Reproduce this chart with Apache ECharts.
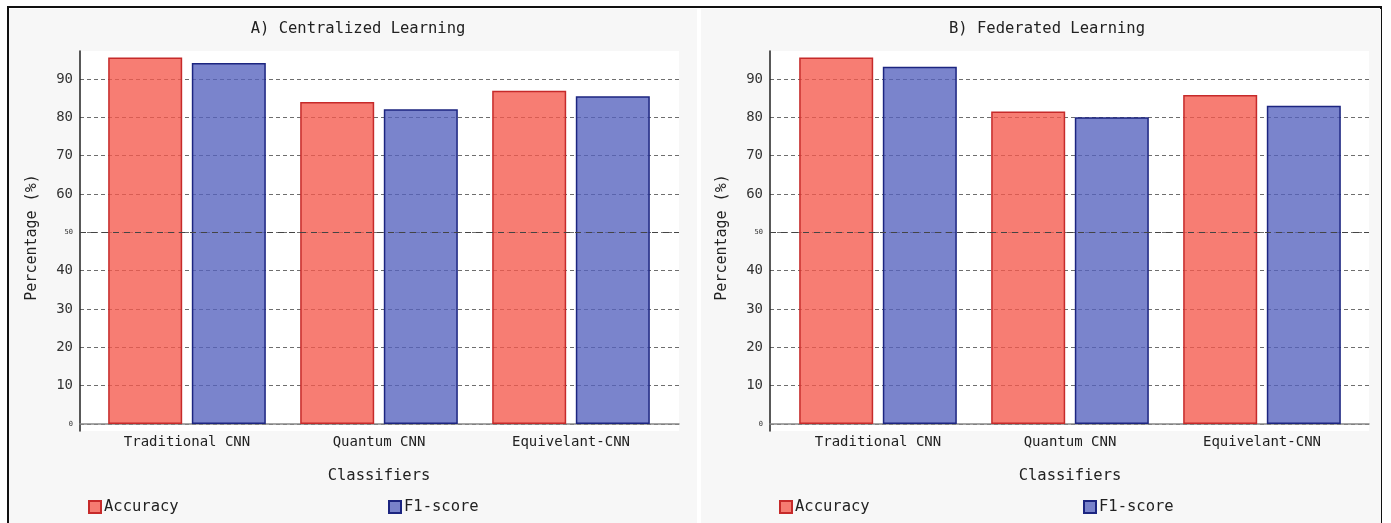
<!DOCTYPE html>
<html>
<head>
<meta charset="utf-8">
<script src="https://cdn.jsdelivr.net/npm/echarts@6/dist/echarts.min.js"></script>
<style>
  html, body { margin: 0; padding: 0; background: #ffffff; }
  #wrap { position: relative; width: 1391px; height: 523px; overflow: hidden; }
  #frame { position: absolute; left: 7px; top: 6px; width: 1375px; height: 530px; border: 2px solid #111; box-sizing: border-box; }
  .panel { position: absolute; top: 9px; height: 520px; background: #f7f7f7; }
  #chart { position: absolute; left: 0; top: 0; width: 1391px; height: 523px; }
</style>
</head>
<body>
<div id="wrap">
  <div id="frame"></div>
  <div class="panel" style="left:9px;width:688px;"></div>
  <div class="panel" style="left:701px;width:680px;"></div>
  <div id="chart"></div>
</div>
<script>
// Classifier scores for the two training settings
const classifiers = ['Traditional CNN', 'Quantum CNN', 'Equivelant-CNN'];
const panelTitles = ['A) Centralized Learning', 'B) Federated Learning'];
const seriesNames = ['Accuracy', 'F1-score'];

const centralizedAccuracy = [95.6, 84.0, 86.9];
const centralizedF1 = [94.2, 82.1, 85.5];
const federatedAccuracy = [95.6, 81.5, 85.8];
const federatedF1 = [93.2, 80.0, 83.0];

const yTicks = [0, 10, 20, 30, 40, 50, 60, 70, 80, 90];
const yMax = 97.3;

const FONT = 'DejaVu Sans Mono';
const RED_FILL = 'rgba(245, 88, 76, 0.78)';
const RED_EDGE = '#c62a2a';
const BLUE_FILL = 'rgba(84, 98, 190, 0.78)';
const BLUE_EDGE = '#1c2580';

const chart = echarts.init(document.getElementById('chart'), null, { renderer: 'canvas' });

// layout of each panel: frame left edge, bar band left edge
const panels = [
  { frameLeft: 80, barLeft: 91, acc: centralizedAccuracy, f1: centralizedF1, titleX: 353, legendX: 88, legendX2: 388 },
  { frameLeft: 770, barLeft: 782, acc: federatedAccuracy, f1: federatedF1, titleX: 1042, legendX: 779, legendX2: 1083 }
];

const grid = [], xAxis = [], yAxis = [], series = [], title = [], legend = [];

panels.forEach((p, i) => {
  const g0 = grid.length;
  // background band (white) with the extended vertical axis line
  grid.push({ left: p.frameLeft, top: 51, width: 599, height: 380, show: true, backgroundColor: '#ffffff', borderWidth: 0 });
  // value scale with gridlines
  grid.push({ left: p.frameLeft, top: 51, width: 599, height: 373, show: false });
  // bar band
  grid.push({ left: p.barLeft, top: 51, width: 576, height: 373, show: false });

  xAxis.push({ gridIndex: g0, type: 'value', show: false });
  yAxis.push({
    gridIndex: g0, type: 'value', min: 0, max: 1,
    axisLine: { show: true, lineStyle: { color: '#222', width: 1.5 } },
    axisTick: { show: false }, axisLabel: { show: false }, splitLine: { show: false }
  });

  xAxis.push({
    gridIndex: g0 + 1, type: 'value', min: 0, max: 1,
    axisLine: { show: true, onZero: false, lineStyle: { color: '#888', width: 1.5 } },
    axisTick: { show: false }, axisLabel: { show: false }, splitLine: { show: false }
  });
  yAxis.push({
    gridIndex: g0 + 1, type: 'value', min: 0, max: yMax, interval: 10,
    name: 'Percentage (%)', nameLocation: 'middle', nameGap: 40,
    nameTextStyle: { fontFamily: FONT, fontSize: 15, color: '#222' },
    axisLine: { show: false }, axisTick: { show: false },
    axisLabel: {
      margin: 7, color: '#333', fontFamily: FONT, fontSize: 14,
      showMaxLabel: false,
      formatter: v => (yTicks.indexOf(v) < 0 ? '' : (v === 0 || v === 50 ? '{s|' + v + '}' : String(v))),
      rich: { s: { fontFamily: FONT, fontSize: 7, color: '#333' } }
    },
    splitLine: { show: true, showMaxLine: false, lineStyle: { color: '#6e6e6e', width: 1, type: [4, 3] } }
  });

  xAxis.push({
    gridIndex: g0 + 2, type: 'category', data: classifiers,
    name: 'Classifiers', nameLocation: 'middle', nameGap: 44,
    nameTextStyle: { fontFamily: FONT, fontSize: 15.5, color: '#222' },
    axisLine: { show: false }, axisTick: { show: false },
    axisLabel: { margin: 11, color: '#222', fontFamily: FONT, fontSize: 14 }
  });
  yAxis.push({ gridIndex: g0 + 2, type: 'value', min: 0, max: yMax, show: false, splitLine: { show: false } });

  // darker midline at 50
  series.push({
    type: 'line', xAxisIndex: g0 + 1, yAxisIndex: g0 + 1, data: [], silent: true,
    markLine: {
      silent: true, symbol: 'none', label: { show: false },
      lineStyle: { color: '#444', width: 1.2, type: [6, 5] },
      data: [{ yAxis: 50 }]
    }
  });

  series.push({
    name: seriesNames[0], type: 'bar', xAxisIndex: g0 + 2, yAxisIndex: g0 + 2,
    data: p.acc, barWidth: 74, barGap: '13%',
    itemStyle: { color: RED_FILL, borderColor: RED_EDGE, borderWidth: 1.5 }
  });
  series.push({
    name: seriesNames[1], type: 'bar', xAxisIndex: g0 + 2, yAxisIndex: g0 + 2,
    data: p.f1, barWidth: 74, barGap: '13%',
    itemStyle: { color: BLUE_FILL, borderColor: BLUE_EDGE, borderWidth: 1.5 }
  });

  title.push({
    text: panelTitles[i], left: p.titleX, top: 16, textAlign: 'center',
    textStyle: { fontFamily: FONT, fontSize: 15.5, fontWeight: 'normal', color: '#222' }
  });

  [p.legendX, p.legendX2].forEach((lx, k) => {
    legend.push({
      data: [seriesNames[k]], left: lx, top: 499, padding: 0,
      icon: 'rect', itemWidth: 12, itemHeight: 12, itemGap: 4,
      selectedMode: false,
      textStyle: { fontFamily: FONT, fontSize: 15.5, color: '#222', padding: [0, 0, 0, -2] }
    });
  });
});

chart.setOption({
  backgroundColor: 'transparent',
  animation: false,
  title, legend, grid, xAxis, yAxis, series
});
</script>
</body>
</html>
